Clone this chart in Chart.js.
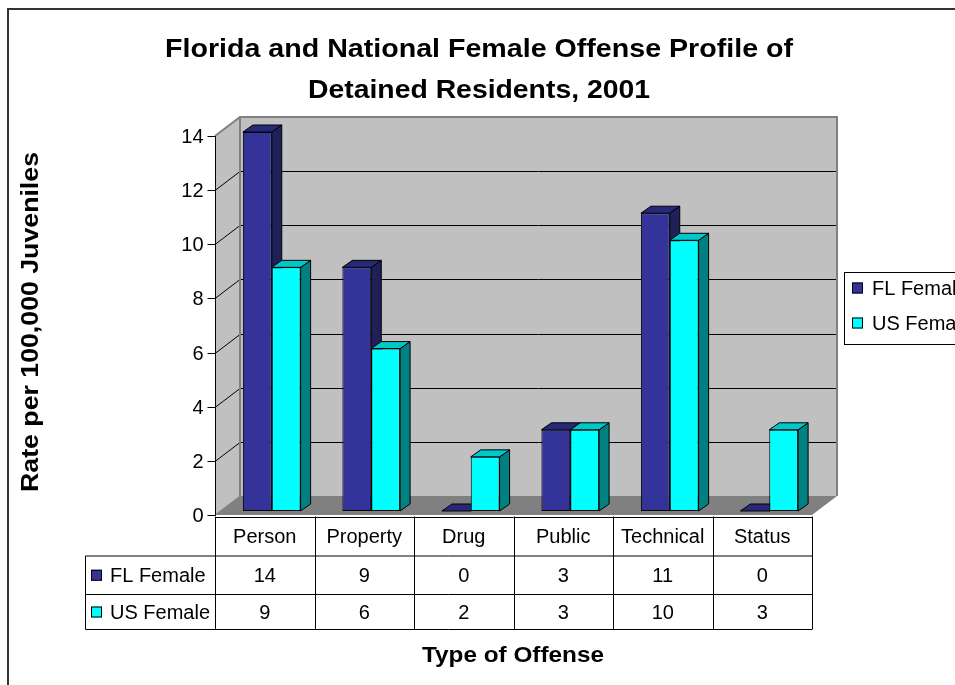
<!DOCTYPE html>
<html>
<head>
<meta charset="utf-8">
<script src="https://cdn.jsdelivr.net/npm/chart.js@4.4.1/dist/chart.umd.min.js"></script>
<style>
  html, body { margin: 0; padding: 0; background: #fff; }
  canvas { display: block; }
</style>
</head>
<body>
<canvas id="chart" width="955" height="685"></canvas>
<script>
// data
const categories = ['Person', 'Property', 'Drug', 'Public', 'Technical', 'Status'];
const flFemale = [14, 9, 0, 3, 11, 0];
const usFemale = [9, 6, 2, 3, 10, 3];
const seriesNames = ['FL Female', 'US Female'];
const yTicks = [0, 2, 4, 6, 8, 10, 12, 14];
const titleLines = ['Florida and National Female Offense Profile of', 'Detained Residents, 2001'];
const xTitle = 'Type of Offense';
const yTitle = 'Rate per 100,000 Juveniles';

// colours: front, side, top
const faces = [
    { front: '#333399', side: '#1f1f5a', top: '#282878' },
    { front: '#00ffff', side: '#008080', top: '#00c8c8' }
];

// 3d offsets relative to the bar plane
const FRONT = { dx: -7, dy: 4 };
const BACK = { dx: 18, dy: -15 };
const DEPTH = { dx: 10, dy: -7 };
const FONT = '"Liberation Sans", Arial, sans-serif';

// bold titles in the original are drawn a bit wider than the font, so stretch them
function stretchedText(ctx, text, x, y, font, width) {
    ctx.save();
    ctx.font = font;
    const s = width / ctx.measureText(text).width;
    ctx.translate(x, y);
    ctx.scale(s, 1);
    ctx.fillText(text, 0, 0);
    ctx.restore();
}

function line(ctx, x1, y1, x2, y2) {
    ctx.beginPath();
    ctx.moveTo(x1, y1);
    ctx.lineTo(x2, y2);
    ctx.stroke();
}

function poly(ctx, pts, fill, stroke) {
    ctx.beginPath();
    ctx.moveTo(pts[0][0], pts[0][1]);
    for (let i = 1; i < pts.length; i++) ctx.lineTo(pts[i][0], pts[i][1]);
    ctx.closePath();
    ctx.fillStyle = fill;
    ctx.fill();
    if (stroke) {
        ctx.strokeStyle = stroke;
        ctx.lineWidth = 1;
        ctx.stroke();
    }
}

const excelFrame = {
    id: 'excelFrame',
    beforeDraw(chart) {
        const ctx = chart.ctx;
        const area = chart.chartArea;
        const ys = chart.scales.y;
        const xs = chart.scales.x;
        ctx.save();
        ctx.fillStyle = '#fff';
        ctx.fillRect(0, 0, chart.width, chart.height);

        // outer frame
        ctx.strokeStyle = '#333';
        ctx.lineWidth = 2;
        ctx.beginPath();
        ctx.moveTo(8, chart.height);
        ctx.lineTo(8, 9);
        ctx.lineTo(chart.width, 9);
        ctx.stroke();

        // title
        ctx.fillStyle = '#000';
        ctx.textAlign = 'center';
        ctx.textBaseline = 'alphabetic';
        stretchedText(ctx, titleLines[0], 479, 57, 'bold 26.5px ' + FONT, 628);
        stretchedText(ctx, titleLines[1], 479, 98, 'bold 26.5px ' + FONT, 342);

        const y0 = ys.getPixelForValue(0);
        const yMax = ys.getPixelForValue(yTicks[yTicks.length - 1]);
        const fl = area.left + FRONT.dx, fr = area.right + FRONT.dx;
        const bl = area.left + BACK.dx, br = area.right + BACK.dx;

        // walls and floor
        ctx.fillStyle = '#c0c0c0';
        ctx.fillRect(bl, yMax + BACK.dy, br - bl, y0 - yMax);
        poly(ctx, [[fl, yMax + FRONT.dy], [bl, yMax + BACK.dy], [bl, y0 + BACK.dy], [fl, y0 + FRONT.dy]], '#c0c0c0');
        poly(ctx, [[fl, y0 + FRONT.dy], [fr, y0 + FRONT.dy], [br, y0 + BACK.dy], [bl, y0 + BACK.dy]], '#808080');

        // gridlines
        ctx.strokeStyle = '#000';
        ctx.lineWidth = 1;
        yTicks.forEach(t => {
            if (t === 0 || t === yTicks[yTicks.length - 1]) return;
            const y = Math.round(ys.getPixelForValue(t)) + 0.5;
            line(ctx, bl, y + BACK.dy, br, y + BACK.dy);
            line(ctx, fl, y + FRONT.dy, bl, y + BACK.dy);
        });

        // wall borders
        ctx.strokeStyle = '#808080';
        ctx.lineWidth = 2;
        ctx.beginPath();
        ctx.moveTo(fl, yMax + FRONT.dy);
        ctx.lineTo(bl, yMax + BACK.dy);
        ctx.lineTo(br, yMax + BACK.dy);
        ctx.lineTo(br, y0 + BACK.dy);
        ctx.stroke();
        line(ctx, bl, yMax + BACK.dy, bl, y0 + BACK.dy);
        ctx.lineWidth = 1;
        line(ctx, fl, y0 + FRONT.dy, bl, y0 + BACK.dy);

        // value axis
        ctx.strokeStyle = '#000';
        ctx.lineWidth = 1;
        const ax = Math.round(fl) + 0.5;
        line(ctx, ax, yMax + FRONT.dy, ax, y0 + FRONT.dy + 1);
        ctx.font = '20px ' + FONT;
        ctx.textAlign = 'right';
        ctx.textBaseline = 'middle';
        ctx.fillStyle = '#000';
        yTicks.forEach(t => {
            const y = Math.round(ys.getPixelForValue(t) + FRONT.dy) + 0.5;
            line(ctx, ax - 8, y, ax, y);
            ctx.fillText(String(t), ax - 12, y + 1);
        });

        // data table
        const rowY = [y0 + FRONT.dy + 1.5, 556, 594.5, 629.5];
        const half = xs.getPixelForValue(1) - xs.getPixelForValue(0);
        const colX = categories.map((c, i) => xs.getPixelForValue(i) - half / 2 + FRONT.dx);
        colX.push(xs.getPixelForValue(categories.length - 1) + half / 2 + FRONT.dx);
        const hdrLeft = 85.5;
        ctx.strokeStyle = '#000';
        line(ctx, fl, Math.round(rowY[0]) + 0.5, fr, Math.round(rowY[0]) + 0.5);
        for (let r = 1; r < rowY.length; r++) line(ctx, hdrLeft, rowY[r], fr, rowY[r]);
        colX.forEach(x => line(ctx, Math.round(x) + 0.5, rowY[0], Math.round(x) + 0.5, rowY[3]));
        line(ctx, hdrLeft, rowY[1], hdrLeft, rowY[3]);

        ctx.textAlign = 'center';
        ctx.textBaseline = 'middle';
        ctx.font = '20px ' + FONT;
        const rows = [flFemale, usFemale];
        categories.forEach((c, i) => {
            const cx = (colX[i] + colX[i + 1]) / 2;
            ctx.fillText(c, cx, (rowY[0] + rowY[1]) / 2 + 1);
            rows.forEach((vals, r) => {
                ctx.fillText(String(vals[i]), cx, (rowY[r + 1] + rowY[r + 2]) / 2 + 1);
            });
        });
        ctx.textAlign = 'left';
        seriesNames.forEach((name, r) => {
            const cy = (rowY[r + 1] + rowY[r + 2]) / 2;
            ctx.fillStyle = faces[r].front;
            ctx.fillRect(91, cy - 5.5, 11, 11);
            ctx.strokeStyle = '#000';
            ctx.strokeRect(91.5, cy - 5, 10, 10);
            ctx.fillStyle = '#000';
            ctx.fillText(name, 110, cy + 1);
        });

        // legend
        ctx.strokeStyle = '#000';
        ctx.strokeRect(844.5, 272.5, 140, 72);
        seriesNames.forEach((name, r) => {
            const cy = 288 + r * 35;
            ctx.fillStyle = faces[r].front;
            ctx.fillRect(852, cy - 5.5, 11, 11);
            ctx.strokeRect(852.5, cy - 5, 10, 10);
            ctx.fillStyle = '#000';
            ctx.fillText(name, 872, cy + 1);
        });

        // axis titles
        ctx.textAlign = 'center';
        ctx.textBaseline = 'alphabetic';
        stretchedText(ctx, xTitle, 513, 662, 'bold 22px ' + FONT, 182);
        ctx.translate(38, 322);
        ctx.rotate(-Math.PI / 2);
        stretchedText(ctx, yTitle, 0, 0, 'bold 24px ' + FONT, 340);
        ctx.restore();
    },
    beforeDatasetsDraw(chart) {
        // side and top faces of the bars, drawn behind the front faces
        const ctx = chart.ctx;
        ctx.save();
        categories.forEach((c, i) => {
            chart.data.datasets.forEach((ds, d) => {
                const bar = chart.getDatasetMeta(d).data[i];
                const left = bar.x - bar.width / 2, right = bar.x + bar.width / 2;
                const top = bar.y, base = bar.base;
                poly(ctx, [[right, top], [right + DEPTH.dx, top + DEPTH.dy],
                    [right + DEPTH.dx, base + DEPTH.dy], [right, base]], faces[d].side, '#000');
                poly(ctx, [[left, top], [left + DEPTH.dx, top + DEPTH.dy],
                    [right + DEPTH.dx, top + DEPTH.dy], [right, top]], faces[d].top, '#000');
            });
        });
        ctx.restore();
    }
};

new Chart(document.getElementById('chart'), {
    type: 'bar',
    data: {
        labels: categories,
        datasets: [
            { label: seriesNames[0], data: flFemale, backgroundColor: faces[0].front },
            { label: seriesNames[1], data: usFemale, backgroundColor: faces[1].front }
        ]
    },
    options: {
        responsive: false,
        animation: false,
        devicePixelRatio: 1,
        layout: { padding: { left: 222, right: 136, top: 132, bottom: 174 } },
        datasets: {
            bar: {
                borderColor: '#000',
                borderWidth: 1,
                borderSkipped: false,
                categoryPercentage: 0.58,
                barPercentage: 1
            }
        },
        scales: {
            x: { display: false },
            y: { display: false, min: 0, max: 14, ticks: { stepSize: 2 } }
        },
        plugins: {
            legend: { display: false },
            title: { display: false },
            tooltip: { enabled: false }
        }
    },
    plugins: [excelFrame]
});
</script>
</body>
</html>
